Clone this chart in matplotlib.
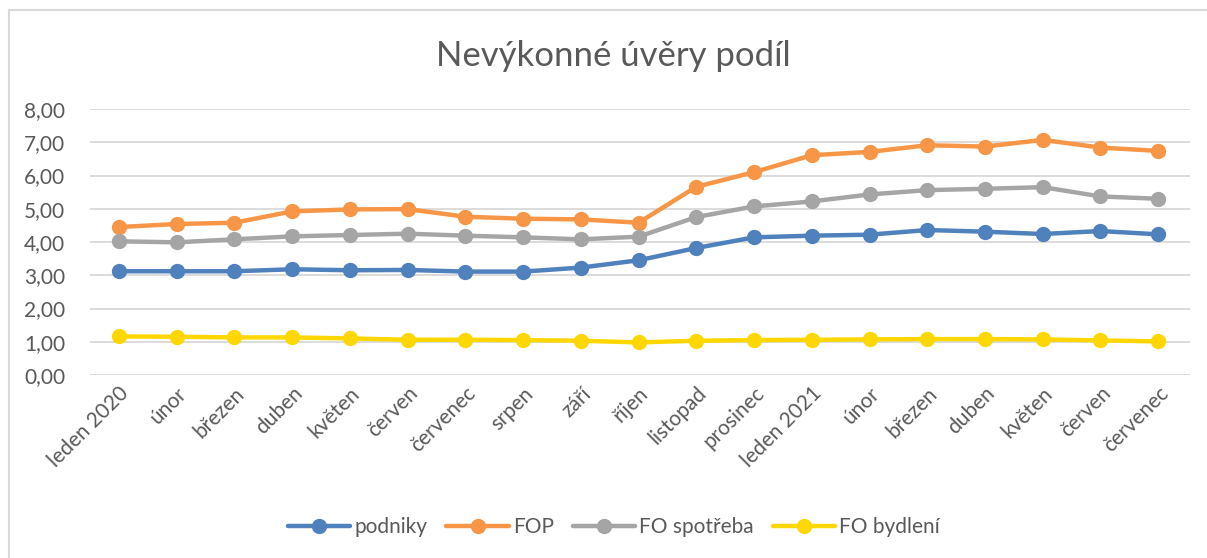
import matplotlib.pyplot as plt
from matplotlib.lines import Line2D
from matplotlib.ticker import FuncFormatter

months = ["leden 2020", "únor", "březen", "duben", "květen", "červen", "červenec",
          "srpen", "září", "říjen", "listopad", "prosinec", "leden 2021", "únor",
          "březen", "duben", "květen", "červen", "červenec"]

podniky = [3.12, 3.12, 3.12, 3.18, 3.15, 3.16, 3.11, 3.11, 3.23, 3.45, 3.82,
           4.14, 4.19, 4.22, 4.36, 4.31, 4.24, 4.33, 4.23]
fop = [4.45, 4.54, 4.58, 4.92, 4.98, 4.99, 4.76, 4.70, 4.68, 4.58, 5.66,
       6.10, 6.61, 6.71, 6.91, 6.87, 7.07, 6.84, 6.74]
fo_spotreba = [4.02, 3.99, 4.08, 4.17, 4.21, 4.25, 4.19, 4.14, 4.08, 4.16, 4.75,
               5.07, 5.22, 5.43, 5.56, 5.60, 5.65, 5.37, 5.30]
fo_bydleni = [1.16, 1.15, 1.13, 1.13, 1.10, 1.06, 1.06, 1.05, 1.03, 0.98, 1.03,
              1.05, 1.06, 1.07, 1.08, 1.08, 1.07, 1.04, 1.01]

series = [("podniky", podniky, "#4f81bd"),
          ("FOP", fop, "#f79646"),
          ("FO spotřeba", fo_spotreba, "#a5a5a5"),
          ("FO bydlení", fo_bydleni, "#ffd700")]

plt.rcParams['font.family'] = ['Lato', 'DejaVu Sans']
text_color = "#595959"

fig = plt.figure(figsize=(12.07, 5.58), dpi=100)
ax = fig.add_axes([90 / 1207, 1 - 375 / 558, 1100 / 1207, 266 / 558])

# chart border: only the left and top edges are visible in the crop
fig.add_artist(Line2D([9 / 1207, 9 / 1207], [0, 1 - 10 / 558], transform=fig.transFigure,
                      color="#d9d9d9", linewidth=1.5))
fig.add_artist(Line2D([9 / 1207, 1], [1 - 10 / 558, 1 - 10 / 558], transform=fig.transFigure,
                      color="#d9d9d9", linewidth=1.5))

x = list(range(len(months)))
for name, vals, col in series:
    ax.plot(x, vals, color=col, linewidth=3.2, marker='o', markersize=10,
            label=name, solid_capstyle='round')

ax.set_ylim(0, 8)
ax.set_yticks(range(0, 9))
ax.yaxis.set_major_formatter(FuncFormatter(lambda v, p: f"{v:.2f}".replace(".", ",")))
ax.set_xlim(-0.5, len(months) - 0.5 + 0.05)
ax.set_xticks(x)
ax.set_xticklabels(months, rotation=45, ha='right', rotation_mode='anchor')
ax.grid(axis='y', color="#d9d9d9", linewidth=1.3)
ax.set_axisbelow(True)
for s in ax.spines.values():
    s.set_visible(False)
ax.tick_params(length=0, labelsize=15, colors=text_color, pad=6)
ax.tick_params(axis='y', pad=18)

fig.text(613 / 1207, 1 - 56 / 558, "Nevýkonné úvěry podíl", ha='center', va='center',
         fontsize=25, color=text_color)

leg = fig.legend(loc='center', bbox_to_anchor=(614 / 1207, 1 - 527 / 558), ncol=4,
                 frameon=False, fontsize=15, handlelength=3, columnspacing=0.9,
                 handletextpad=0.2)
for t in leg.get_texts():
    t.set_color(text_color)

fig.savefig("out.png", dpi=100)
